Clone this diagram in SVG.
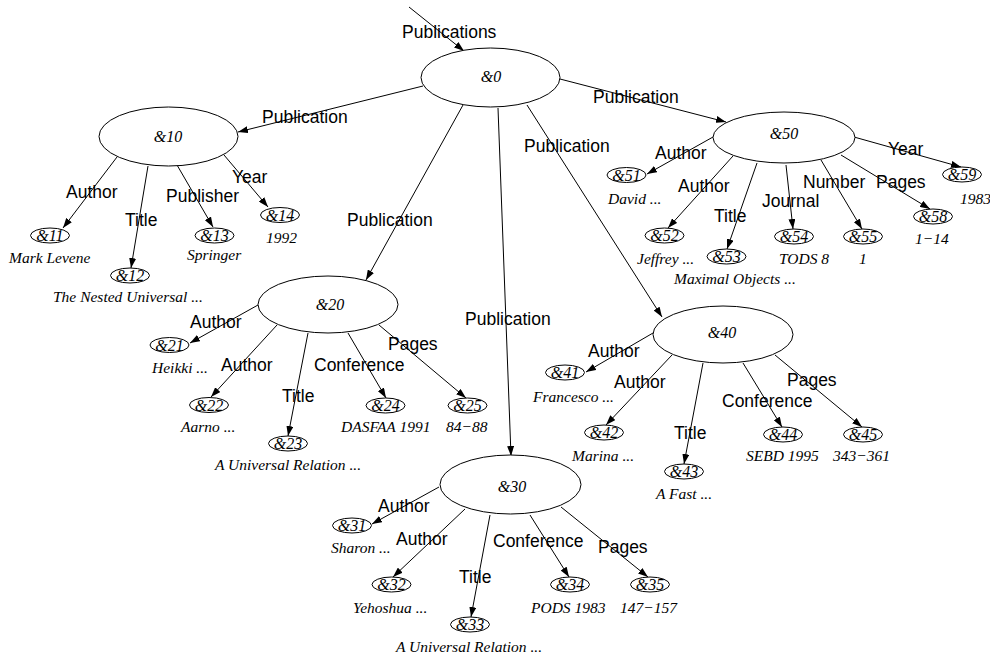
<svg xmlns="http://www.w3.org/2000/svg" width="990" height="659" viewBox="0 0 990 659">
<style>
  .e { fill: none; stroke: #000; stroke-width: 1; marker-end: url(#arr); }
  .n { fill: #fff; stroke: #000; stroke-width: 1; }
  .id { font-family: "Liberation Serif", "Times New Roman", serif; font-style: italic; font-size: 16px; text-anchor: middle; fill: #000; }
  .v { font-family: "Liberation Serif", "Times New Roman", serif; font-style: italic; font-size: 15.5px; fill: #000; }
  .lb { font-family: "Liberation Sans", Arial, sans-serif; font-size: 17.5px; fill: #000; }
</style>
<defs>
  <marker id="arr" markerUnits="userSpaceOnUse" markerWidth="10" markerHeight="7" refX="10" refY="3.5" orient="auto">
    <path d="M0,0 L10,3.5 L0,7 z" fill="#000"/>
  </marker>
</defs>
<rect width="990" height="659" fill="#fff"/>

<!-- edges and their labels -->
<g id="connectors">
  <line class="e" x1="409" y1="7" x2="464" y2="51"/>
  <line class="e" x1="423" y1="86" x2="238" y2="132"/>
  <line class="e" x1="560" y1="79" x2="726" y2="122"/>
  <line class="e" x1="463" y1="105" x2="366" y2="280"/>
  <line class="e" x1="498" y1="108" x2="511" y2="456"/>
  <line class="e" x1="527" y1="105" x2="662" y2="317"/>

  <line class="e" x1="117" y1="157" x2="63" y2="228"/>
  <line class="e" x1="148" y1="166" x2="131" y2="268"/>
  <line class="e" x1="177" y1="165" x2="213" y2="227"/>
  <line class="e" x1="224" y1="155" x2="268" y2="207"/>

  <line class="e" x1="713" y1="137" x2="647" y2="174"/>
  <line class="e" x1="733" y1="156" x2="668" y2="228"/>
  <line class="e" x1="757" y1="163" x2="727" y2="249"/>
  <line class="e" x1="786" y1="165" x2="793" y2="229"/>
  <line class="e" x1="821" y1="160" x2="862" y2="229"/>
  <line class="e" x1="841" y1="155" x2="930" y2="209"/>
  <line class="e" x1="854" y1="137" x2="961" y2="167"/>

  <line class="e" x1="258" y1="305" x2="190" y2="343"/>
  <line class="e" x1="277" y1="325" x2="211" y2="397"/>
  <line class="e" x1="308" y1="333" x2="288" y2="436"/>
  <line class="e" x1="348" y1="333" x2="386" y2="398"/>
  <line class="e" x1="379" y1="325" x2="466" y2="398"/>

  <line class="e" x1="653" y1="333" x2="586" y2="372"/>
  <line class="e" x1="672" y1="355" x2="606" y2="425"/>
  <line class="e" x1="703" y1="363" x2="684" y2="464"/>
  <line class="e" x1="743" y1="363" x2="782" y2="427"/>
  <line class="e" x1="775" y1="355" x2="862" y2="427"/>

  <line class="e" x1="439" y1="487" x2="372" y2="524"/>
  <line class="e" x1="465" y1="509" x2="393" y2="577"/>
  <line class="e" x1="490" y1="515" x2="471" y2="617"/>
  <line class="e" x1="530" y1="515" x2="569" y2="577"/>
  <line class="e" x1="561" y1="507" x2="648" y2="577"/>

  <text class="lb" x="402" y="38">Publications</text>
  <text class="lb" x="262" y="123">Publication</text>
  <text class="lb" x="593" y="103">Publication</text>
  <text class="lb" x="347" y="226">Publication</text>
  <text class="lb" x="465" y="325">Publication</text>
  <text class="lb" x="524" y="152">Publication</text>

  <text class="lb" x="66" y="198">Author</text>
  <text class="lb" x="125" y="226">Title</text>
  <text class="lb" x="166" y="202">Publisher</text>
  <text class="lb" x="232" y="183">Year</text>

  <text class="lb" x="655" y="159">Author</text>
  <text class="lb" x="678" y="192">Author</text>
  <text class="lb" x="714" y="222">Title</text>
  <text class="lb" x="762" y="207">Journal</text>
  <text class="lb" x="803" y="188">Number</text>
  <text class="lb" x="876" y="188">Pages</text>
  <text class="lb" x="888" y="155">Year</text>

  <text class="lb" x="190" y="328">Author</text>
  <text class="lb" x="221" y="371">Author</text>
  <text class="lb" x="282" y="402">Title</text>
  <text class="lb" x="314" y="371">Conference</text>
  <text class="lb" x="388" y="350">Pages</text>

  <text class="lb" x="588" y="357">Author</text>
  <text class="lb" x="614" y="388">Author</text>
  <text class="lb" x="674" y="439">Title</text>
  <text class="lb" x="722" y="407">Conference</text>
  <text class="lb" x="787" y="386">Pages</text>

  <text class="lb" x="378" y="512">Author</text>
  <text class="lb" x="396" y="545">Author</text>
  <text class="lb" x="459" y="583">Title</text>
  <text class="lb" x="493" y="547">Conference</text>
  <text class="lb" x="598" y="553">Pages</text>
</g>

<!-- complex objects -->
<g id="n0"><ellipse class="n" cx="490.5" cy="77.5" rx="69.5" ry="29.5"/><text class="id" x="491" y="82">&amp;0</text></g>
<g id="n10"><ellipse class="n" cx="168.5" cy="136.5" rx="69.5" ry="29.5"/><text class="id" x="168" y="142">&amp;10</text></g>
<g id="n50"><ellipse class="n" cx="784" cy="137.5" rx="71" ry="25.5"/><text class="id" x="784" y="139">&amp;50</text></g>
<g id="n20"><ellipse class="n" cx="328" cy="304.5" rx="70" ry="28.5"/><text class="id" x="330" y="310">&amp;20</text></g>
<g id="n40"><ellipse class="n" cx="723" cy="334.5" rx="70" ry="28.5"/><text class="id" x="722" y="338">&amp;40</text></g>
<g id="n30"><ellipse class="n" cx="510.5" cy="484.5" rx="70.5" ry="29.5"/><text class="id" x="512" y="492">&amp;30</text></g>

<!-- atomic objects of &10 -->
<g id="n11"><ellipse class="n" cx="50" cy="235.5" rx="19.5" ry="7.5"/><text class="id" x="50" y="241">&amp;11</text><text class="v" x="9" y="263">Mark Levene</text></g>
<g id="n12"><ellipse class="n" cx="130" cy="275.5" rx="19.5" ry="7.5"/><text class="id" x="130" y="281">&amp;12</text><text class="v" x="53" y="302">The Nested Universal ...</text></g>
<g id="n13"><ellipse class="n" cx="214.5" cy="235.5" rx="19.5" ry="7.5"/><text class="id" x="214.5" y="241">&amp;13</text><text class="v" x="187" y="260">Springer</text></g>
<g id="n14"><ellipse class="n" cx="280" cy="215" rx="19.5" ry="7.5"/><text class="id" x="280" y="220.5">&amp;14</text><text class="v" x="266" y="243">1992</text></g>

<!-- atomic objects of &50 -->
<g id="n51"><ellipse class="n" cx="626.5" cy="175" rx="19.5" ry="7.5"/><text class="id" x="626.5" y="180.5">&amp;51</text><text class="v" x="608" y="204">David ...</text></g>
<g id="n52"><ellipse class="n" cx="664.5" cy="235.5" rx="19.5" ry="7.5"/><text class="id" x="664.5" y="241">&amp;52</text><text class="v" x="637" y="264">Jeffrey ...</text></g>
<g id="n53"><ellipse class="n" cx="726.5" cy="256.5" rx="19.5" ry="7.5"/><text class="id" x="726.5" y="262">&amp;53</text><text class="v" x="674" y="284">Maximal Objects ...</text></g>
<g id="n54"><ellipse class="n" cx="794" cy="236.5" rx="19.5" ry="7.5"/><text class="id" x="794" y="242">&amp;54</text><text class="v" x="779" y="264">TODS 8</text></g>
<g id="n55"><ellipse class="n" cx="863" cy="236.5" rx="19.5" ry="7.5"/><text class="id" x="863" y="242">&amp;55</text><text class="v" x="859" y="264">1</text></g>
<g id="n58"><ellipse class="n" cx="933" cy="216.5" rx="19.5" ry="7.5"/><text class="id" x="933" y="222">&amp;58</text><text class="v" x="915" y="244">1&#8722;14</text></g>
<g id="n59"><ellipse class="n" cx="962" cy="174.5" rx="19.5" ry="7.5"/><text class="id" x="962" y="180">&amp;59</text><text class="v" x="960" y="204">1983</text></g>

<!-- atomic objects of &20 -->
<g id="n21"><ellipse class="n" cx="169.5" cy="345" rx="19.5" ry="7.5"/><text class="id" x="169.5" y="350.5">&amp;21</text><text class="v" x="152" y="373">Heikki ...</text></g>
<g id="n22"><ellipse class="n" cx="209" cy="405" rx="19.5" ry="7.5"/><text class="id" x="209" y="410.5">&amp;22</text><text class="v" x="181" y="432">Aarno ...</text></g>
<g id="n23"><ellipse class="n" cx="288" cy="443.5" rx="19.5" ry="7.5"/><text class="id" x="288" y="449">&amp;23</text><text class="v" x="215" y="470">A Universal Relation ...</text></g>
<g id="n24"><ellipse class="n" cx="385.5" cy="405.5" rx="19.5" ry="7.5"/><text class="id" x="385.5" y="411">&amp;24</text><text class="v" x="341" y="432">DASFAA 1991</text></g>
<g id="n25"><ellipse class="n" cx="467.5" cy="405.5" rx="19.5" ry="7.5"/><text class="id" x="467.5" y="411">&amp;25</text><text class="v" x="446" y="432">84&#8722;88</text></g>

<!-- atomic objects of &40 -->
<g id="n41"><ellipse class="n" cx="565" cy="372.5" rx="19.5" ry="7.5"/><text class="id" x="565" y="378">&amp;41</text><text class="v" x="533" y="402">Francesco ...</text></g>
<g id="n42"><ellipse class="n" cx="604" cy="432.5" rx="19.5" ry="7.5"/><text class="id" x="604" y="438">&amp;42</text><text class="v" x="572" y="461">Marina ...</text></g>
<g id="n43"><ellipse class="n" cx="684" cy="471.5" rx="19.5" ry="7.5"/><text class="id" x="684" y="477">&amp;43</text><text class="v" x="656" y="499">A Fast ...</text></g>
<g id="n44"><ellipse class="n" cx="783" cy="434.5" rx="19.5" ry="7.5"/><text class="id" x="783" y="440">&amp;44</text><text class="v" x="746" y="461">SEBD 1995</text></g>
<g id="n45"><ellipse class="n" cx="863" cy="434.5" rx="19.5" ry="7.5"/><text class="id" x="863" y="440">&amp;45</text><text class="v" x="833" y="461">343&#8722;361</text></g>

<!-- atomic objects of &30 -->
<g id="n31"><ellipse class="n" cx="352" cy="525.5" rx="19.5" ry="7.5"/><text class="id" x="352" y="531">&amp;31</text><text class="v" x="331" y="553">Sharon ...</text></g>
<g id="n32"><ellipse class="n" cx="391.5" cy="584.5" rx="19.5" ry="7.5"/><text class="id" x="391.5" y="590">&amp;32</text><text class="v" x="353" y="613">Yehoshua ...</text></g>
<g id="n33"><ellipse class="n" cx="470" cy="624.5" rx="19.5" ry="7.5"/><text class="id" x="470" y="630">&amp;33</text><text class="v" x="396" y="652">A Universal Relation ...</text></g>
<g id="n34"><ellipse class="n" cx="570" cy="584.5" rx="19.5" ry="7.5"/><text class="id" x="570" y="590">&amp;34</text><text class="v" x="531" y="613">PODS 1983</text></g>
<g id="n35"><ellipse class="n" cx="650" cy="584.5" rx="19.5" ry="7.5"/><text class="id" x="650" y="590">&amp;35</text><text class="v" x="620" y="613">147&#8722;157</text></g>
</svg>
